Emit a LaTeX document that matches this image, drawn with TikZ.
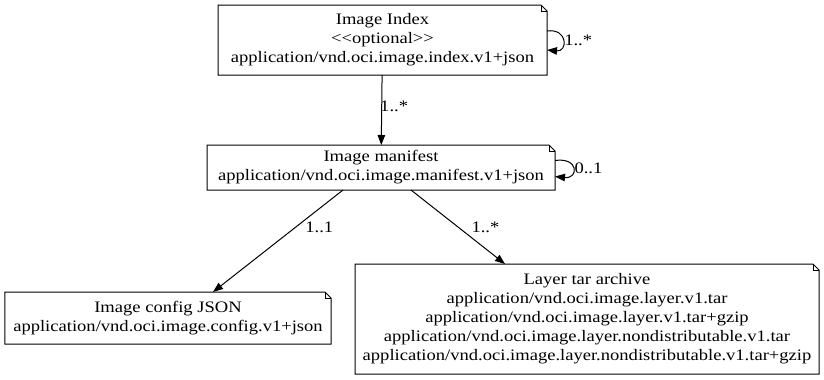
\documentclass[tikz,border=0pt]{standalone}
\usepackage{fontspec}
\setmainfont{Liberation Serif}[FakeStretch=1.16]
\usepackage{tikz}
\usetikzlibrary{arrows.meta,positioning}

\newcommand{\notefold}[1]{%
	\draw[line width=1bp] (#1.south west) -- (#1.north west) -- ([xshift=-6bp]#1.north east)
		-- ([yshift=-6bp]#1.north east) -- (#1.south east) -- cycle;
	\draw[line width=0.8bp] ([xshift=-6bp]#1.north east) |- ([yshift=-6bp]#1.north east);}

\begin{document}
\begin{tikzpicture}[x=1bp,y=-1bp,
		notebox/.style={align=center,inner sep=0pt,outer sep=0pt,
			font=\fontsize{16bp}{19bp}\selectfont},
		edge/.style={line width=1bp,-{Triangle[length=10bp,width=7.5bp]}},
		lbl/.style={font=\fontsize{16bp}{19bp}\selectfont,inner sep=1bp}]
		\useasboundingbox (0,0) rectangle (824,379);
		% documents
		\node[notebox,minimum width=329bp,minimum height=70bp] (index) at (382.5,40)
			{Image Index\\<\kern0pt<optional>\kern0pt>\\application/vnd.oci.image.index.v1+json};
		\node[notebox,minimum width=348bp,minimum height=45bp] (manifest) at (381,167.5)
			{Image manifest\\application/vnd.oci.image.manifest.v1+json};
		\node[notebox,minimum width=326bp,minimum height=52bp] (config) at (168,318)
			{Image config JSON\\application/vnd.oci.image.config.v1+json};
		\node[notebox,minimum width=464bp,minimum height=110bp] (layer) at (587,319)
			{Layer tar archive\\application/vnd.oci.image.layer.v1.tar\\
			application/vnd.oci.image.layer.v1.tar+gzip\\
			application/vnd.oci.image.layer.nondistributable.v1.tar\\
			application/vnd.oci.image.layer.nondistributable.v1.tar+gzip};
		\notefold{index}
		\notefold{manifest}
		\notefold{config}
		\notefold{layer}
		% references
		\draw[edge] (index) -- node[lbl,right,xshift=-3bp,pos=0.45] {1..*} (manifest);
		\draw[edge] ([xshift=-38bp]manifest.south) -- node[lbl,right=9bp,pos=0.37] {1..1}
			([xshift=45bp]config.north);
		\draw[edge] ([xshift=30bp]manifest.south) -- node[lbl,right=12bp,pos=0.5] {1..*}
			([xshift=-82bp]layer.north);
		% self references
		\draw[edge] ([yshift=9bp]index.east) .. controls (568,28) and (568,52) ..
			node[lbl,right] {1..*} ([yshift=-10bp]index.east);
		\draw[edge] ([yshift=7bp]manifest.east) .. controls (579,157) and (579,179) ..
			node[lbl,right] {0..1} ([yshift=-9bp]manifest.east);
	\end{tikzpicture}
\end{document}
